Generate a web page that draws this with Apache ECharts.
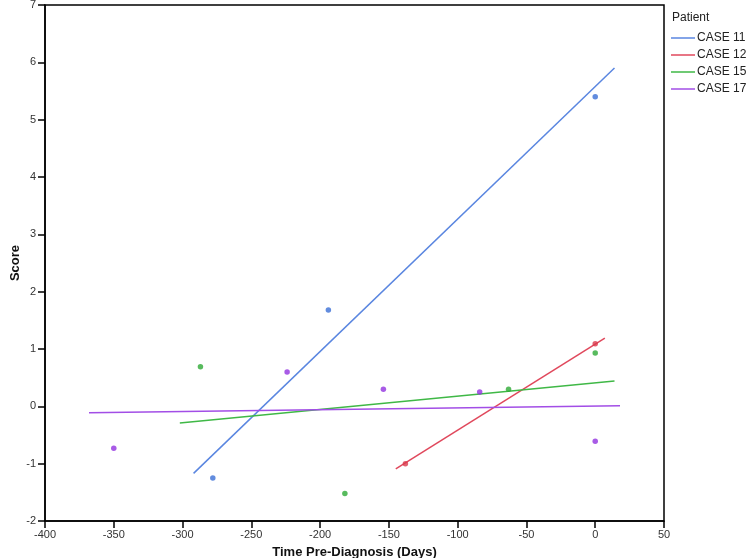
<!DOCTYPE html>
<html><head><meta charset="utf-8">
<script src="https://cdn.jsdelivr.net/npm/echarts@6/dist/echarts.min.js"></script>
<style>html,body{margin:0;padding:0;background:#fff}#c{width:750px;height:558px}</style>
</head><body><div id="c"></div>
<script>
// Observed points
const case11X = [-278, -194, 0];
const case11Y = [-1.25, 1.68, 5.40];
const case12X = [-138, 0];
const case12Y = [-1.00, 1.09];
const case15X = [-287, -182, -63, 0];
const case15Y = [0.69, -1.52, 0.30, 0.93];
const case17X = [-350, -224, -154, -84, 0];
const case17Y = [-0.73, 0.60, 0.30, 0.25, -0.61];
// Fitted line endpoints
const fit11X = [-292, 14];
const fit11Y = [-1.17, 5.90];
const fit12X = [-145, 7];
const fit12Y = [-1.09, 1.19];
const fit15X = [-302, 14];
const fit15Y = [-0.29, 0.44];
const fit17X = [-368, 18];
const fit17Y = [-0.11, 0.01];
const names = ['CASE 11', 'CASE 12', 'CASE 15', 'CASE 17'];
const xTicks = [-400, -350, -300, -250, -200, -150, -100, -50, 0, 50];
const yTicks = [-2, -1, 0, 1, 2, 3, 4, 5, 6, 7];

const lineColors = ['#5a86e0', '#e0485c', '#3fb846', '#a24ee6'];
const dotColors = ['#3b6fd6', '#d93a4c', '#2eaa36', '#9232e0'];

const pts = [[case11X, case11Y], [case12X, case12Y], [case15X, case15Y], [case17X, case17Y]];
const fits = [[fit11X, fit11Y], [fit12X, fit12Y], [fit15X, fit15Y], [fit17X, fit17Y]];
const zip = (a, b) => a.map((v, i) => [v, b[i]]);

const series = [];
names.forEach((n, i) => {
  series.push({
    name: n, type: 'line', data: zip(fits[i][0], fits[i][1]),
    showSymbol: false, symbol: 'none', lineStyle: {color: lineColors[i], width: 1.5},
    itemStyle: {color: lineColors[i]}, silent: true, animation: false, z: 2
  });
  series.push({
    name: n + ' pts', type: 'scatter', data: zip(pts[i][0], pts[i][1]),
    symbolSize: 5.5, itemStyle: {color: dotColors[i]}, animation: false, z: 3
  });
});

const chart = echarts.init(document.getElementById('c'), null, {renderer: 'canvas'});
const font = 'Liberation Sans, Arial, Helvetica, sans-serif';
chart.setOption({
  animation: false,
  textStyle: {fontFamily: font},
  grid: {left: 45, right: 86, top: 5, bottom: 37, containLabel: false, outerBoundsMode: 'none',
         show: true, borderColor: '#000', borderWidth: 1.5, backgroundColor: 'transparent'},
  xAxis: {
    type: 'value', min: xTicks[0], max: xTicks[xTicks.length - 1], interval: 50,
    name: 'Time Pre-Diagnosis (Days)', nameLocation: 'middle', nameGap: 25, nameMoveOverlap: false,
    nameTextStyle: {fontWeight: 'bold', fontSize: 13, color: '#111', fontFamily: font},
    axisLine: {show: true, onZero: false, lineStyle: {color: '#000', width: 1.5}},
    axisTick: {show: true, inside: false, length: 7, lineStyle: {color: '#000', width: 1.5}},
    axisLabel: {fontSize: 11, color: '#333', margin: 8, fontFamily: font},
    splitLine: {show: false}
  },
  yAxis: {
    type: 'value', min: yTicks[0], max: yTicks[yTicks.length - 1], interval: 1,
    name: 'Score', nameLocation: 'middle', nameGap: 23, nameRotate: 90, nameMoveOverlap: false,
    nameTextStyle: {fontWeight: 'bold', fontSize: 13, color: '#111', fontFamily: font},
    axisLine: {show: true, onZero: false, lineStyle: {color: '#000', width: 1.5}},
    axisTick: {show: true, inside: false, length: 7, lineStyle: {color: '#000', width: 1.5}},
    axisLabel: {fontSize: 11, color: '#333', margin: 9, fontFamily: font},
    splitLine: {show: false}
  },
  legend: {
    data: names, orient: 'vertical', left: 671, top: 32, padding: 0,
    icon: 'rect', itemWidth: 24, itemHeight: 1.5, itemGap: 5,
    textStyle: {fontSize: 12, color: '#222', fontFamily: font, padding: [0, 0, 0, -3]},
    selectedMode: false
  },
  graphic: [{type: 'text', left: 672, top: 12, style: {text: 'Patient', font: '12px ' + font, fill: '#222'}}],
  series: series
});
</script></body></html>
